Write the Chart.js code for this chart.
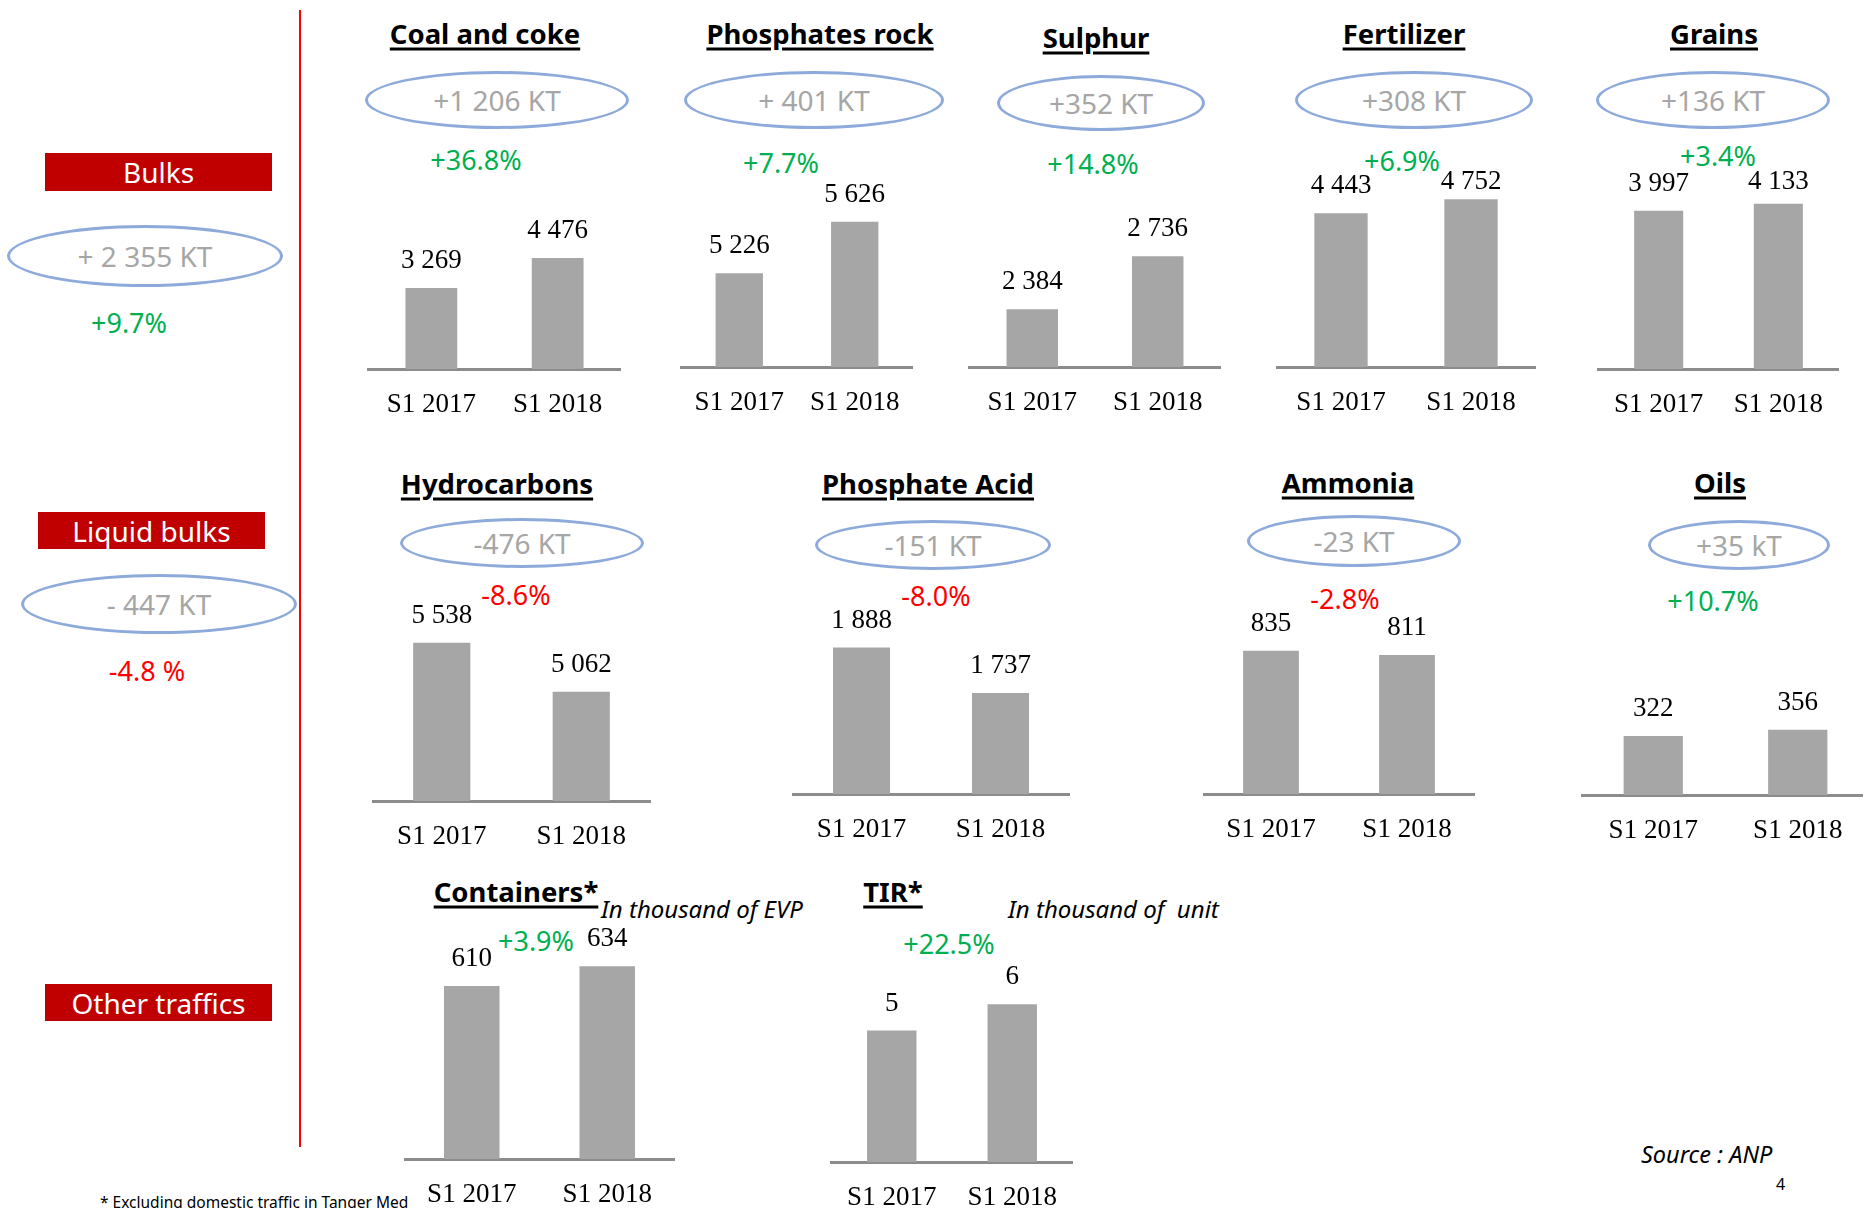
<!DOCTYPE html>
<html>
<head>
<meta charset="utf-8">
<script src="https://cdn.jsdelivr.net/npm/chart.js@4.4.1/dist/chart.umd.min.js"></script>
<style>
  html, body { margin: 0; padding: 0; background: #fff; }
  #slide { position: relative; width: 1863px; height: 1208px; overflow: hidden; font-family: "Noto Sans", sans-serif; }
  .abs { position: absolute; white-space: pre; }
  .mid { transform: translate(-50%, -50%); }
  .title { font-weight: bold; font-size: 27.5px; color: #000; text-decoration: underline; text-decoration-thickness: 2.5px; text-underline-offset: 4px; }
  .ellipse { position: absolute; box-sizing: border-box; border: 3px solid #8eaadb; border-radius: 50%; display: flex; align-items: center; justify-content: center; color: #a6a6a6; font-size: 28px; }
  .pct { font-size: 27px; }
  .up { color: #00b050; }
  .down { color: #ff0000; }
  .section { position: absolute; background: #c00000; color: #fff; font-size: 28px; display: flex; align-items: center; justify-content: center; }
  .unit { font-style: italic; font-size: 24px; }
  .chartbox { position: absolute; }
</style>
</head>
<body>
<div id="slide"></div>
<script>
/* ---------- data ---------- */
const periods = ["S1 2017", "S1 2018"];
const products = ["Coal and coke", "Phosphates rock", "Sulphur", "Fertilizer", "Grains",
                  "Hydrocarbons", "Phosphate Acid", "Ammonia", "Oils", "Containers*", "TIR*"];
const s1_2017 = [3269, 5226, 2384, 4443, 3997, 5538, 1888, 835, 322, 610, 5];
const s1_2018 = [4476, 5626, 2736, 4752, 4133, 5062, 1737, 811, 356, 634, 6];
const deltas = ["+1 206 KT", "+ 401 KT", "+352 KT", "+308 KT", "+136 KT",
                "-476 KT", "-151 KT", "-23 KT", "+35 kT", null, null];
const growth = ["+36.8%", "+7.7%", "+14.8%", "+6.9%", "+3.4%",
                "-8.6%", "-8.0%", "-2.8%", "+10.7%", "+3.9%", "+22.5%"];
// value axis range of each small chart
const axisMin = [0, 4500, 2000, 1000, 1000, 4000, 1400, 0, 0, 400, 0];
const axisMax = [9230, 6260, 3510, 6080, 5340, 6050, 2080, 1190, 1120, 690, 9.2];

const sections = ["Bulks", "Liquid bulks", "Other traffics"];
const sectionTotals = ["+ 2 355 KT", "- 447 KT"];
const sectionGrowth = ["+9.7%", "-4.8 %"];
const units = ["In thousand of EVP", "In thousand of  unit"];

/* ---------- layout ---------- */
const boxes = [
  { x0: 367, x1: 622, base: 369, top: 140, tx: 485, ty: 33, ex: 497, ey: 100, rx: 132, ry: 29, px: 476, py: 159 },
  { x0: 676, x1: 918, base: 367, top: 140, tx: 820, ty: 33, ex: 814, ey: 100, rx: 130, ry: 29, px: 781, py: 162 },
  { x0: 968, x1: 1222, base: 367, top: 140, tx: 1096, ty: 37, ex: 1101, ey: 103, rx: 104, ry: 28, px: 1093, py: 163 },
  { x0: 1276, x1: 1536, base: 367, top: 140, tx: 1404, ty: 33, ex: 1414, ey: 100, rx: 119, ry: 29, px: 1402, py: 160, ceil: 182 },
  { x0: 1595, x1: 1842, base: 369, top: 140, tx: 1714, ty: 33, ex: 1713, ey: 100, rx: 117, ry: 29, px: 1718, py: 155, ceil: 182 },
  { x0: 372, x1: 651, base: 801, top: 590, tx: 497, ty: 483, ex: 522, ey: 543, rx: 122, ry: 25, px: 516, py: 594 },
  { x0: 792, x1: 1070, base: 794, top: 590, tx: 928, ty: 483, ex: 933, ey: 545, rx: 118, ry: 25, px: 936, py: 595 },
  { x0: 1203, x1: 1475, base: 794, top: 590, tx: 1348, ty: 482, ex: 1354, ey: 541, rx: 107, ry: 26, px: 1345, py: 598 },
  { x0: 1581, x1: 1870, base: 795, top: 590, tx: 1720, ty: 482, ex: 1739, ey: 545, rx: 91, ry: 25, px: 1713, py: 600 },
  { x0: 404, x1: 675, base: 1159, top: 920, tx: 516, ty: 891, px: 536, py: 940 },
  { x0: 828, x1: 1076, base: 1162, top: 920, tx: 893, ty: 891, px: 949, py: 943 }
];
const AXIS_H = 60;
const slide = document.getElementById("slide");

function put(text, cls, x, y, extra) {
  const d = document.createElement("div");
  d.className = "abs " + cls;
  d.style.left = x + "px";
  d.style.top = y + "px";
  if (extra) Object.assign(d.style, extra);
  d.textContent = text;
  slide.appendChild(d);
  return d;
}

function ellipse(text, cx, cy, rx, ry) {
  const e = document.createElement("div");
  e.className = "ellipse";
  Object.assign(e.style, { left: (cx - rx) + "px", top: (cy - ry) + "px", width: 2 * rx + "px", height: 2 * ry + "px" });
  e.textContent = text;
  slide.appendChild(e);
}

function section(text, x0, y0, x1, y1) {
  const s = document.createElement("div");
  s.className = "section";
  Object.assign(s.style, { left: x0 + "px", top: y0 + "px", width: (x1 - x0) + "px", height: (y1 - y0) + "px" });
  s.textContent = text;
  slide.appendChild(s);
}

/* ---------- left column ---------- */
const rule = document.createElement("div");
Object.assign(rule.style, { position: "absolute", left: "299px", top: "10px", width: "2px", height: "1137px", background: "#ff0000" });
slide.appendChild(rule);

section(sections[0], 45, 153, 272, 191);
section(sections[1], 38, 512, 265, 549);
section(sections[2], 45, 984, 272, 1021);
ellipse(sectionTotals[0], 145, 256, 138, 31);
ellipse(sectionTotals[1], 159, 604, 138, 30);
put(sectionGrowth[0], "mid pct up", 129, 322);
put(sectionGrowth[1], "mid pct down", 147, 670);

put(units[0], "unit", 601, 892);
put(units[1], "unit", 1008, 892);
put("* Excluding domestic traffic in Tanger Med", "", 100, 1191, { fontSize: "15.5px" });
put("Source : ANP", "", 1641, 1138, { fontSize: "23.5px", fontStyle: "italic" });
put("4", "", 1776, 1173, { fontSize: "16px" });

/* ---------- small bar charts ---------- */
const fmt = v => String(v).replace(/\B(?=(\d{3})+(?!\d))/g, " ");

const valueLabels = {
  id: "valueLabels",
  afterDatasetsDraw(chart, args, opts) {
    const ctx = chart.ctx;
    ctx.save();
    ctx.font = "27px 'Liberation Serif'";
    ctx.fillStyle = "#000";
    ctx.textAlign = "center";
    ctx.textBaseline = "middle";
    const meta = chart.getDatasetMeta(0);
    meta.data.forEach((bar, i) => {
      let y = bar.y - 27;
      if (opts.ceil != null) y = Math.max(y, opts.ceil);
      ctx.fillText(fmt(chart.data.datasets[0].data[i]), bar.x, y);
    });
    ctx.restore();
  }
};

products.forEach((name, i) => {
  const b = boxes[i];
  put(name, "mid title", b.tx, b.ty);
  if (deltas[i]) ellipse(deltas[i], b.ex, b.ey, b.rx, b.ry);
  put(growth[i], "mid pct " + (growth[i][0] === "-" ? "down" : "up"), b.px, b.py);

  const w = b.x1 - b.x0;
  const h = b.base - b.top + AXIS_H;
  const box = document.createElement("div");
  box.className = "chartbox";
  Object.assign(box.style, { left: b.x0 + "px", top: b.top + "px", width: w + "px", height: h + "px" });
  const canvas = document.createElement("canvas");
  canvas.width = w;
  canvas.height = h;
  box.appendChild(canvas);
  slide.appendChild(box);

  new Chart(canvas, {
    type: "bar",
    data: {
      labels: periods,
      datasets: [{
        data: [s1_2017[i], s1_2018[i]],
        backgroundColor: "#a6a6a6",
        borderWidth: 0,
        categoryPercentage: 0.41,
        barPercentage: 1
      }]
    },
    options: {
      responsive: false,
      animation: false,
      devicePixelRatio: 1,
      layout: { padding: 0 },
      plugins: {
        legend: { display: false },
        tooltip: { enabled: false },
        valueLabels: { ceil: b.ceil != null ? b.ceil - b.top : null }
      },
      scales: {
        x: {
          grid: { display: false, drawTicks: false },
          border: { display: true, color: "#8c8c8c", width: 3 },
          ticks: { color: "#000", padding: 20, maxRotation: 0, font: { family: "Liberation Serif", size: 27 } },
          afterFit: s => { s.height = AXIS_H; }
        },
        y: {
          display: false,
          min: axisMin[i],
          max: axisMax[i]
        }
      }
    },
    plugins: [valueLabels]
  });
});
</script>
</body>
</html>
